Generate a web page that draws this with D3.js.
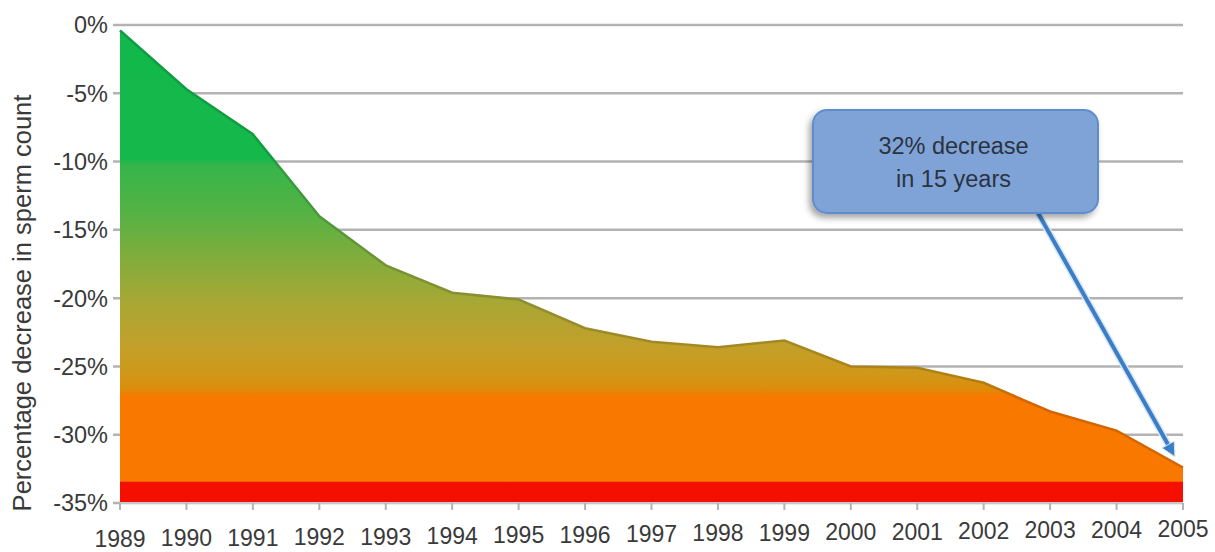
<!DOCTYPE html>
<html>
<head>
<meta charset="utf-8">
<script src="https://cdn.jsdelivr.net/npm/d3@7"></script>
<style>
  html, body { margin: 0; padding: 0; background: #ffffff; }
  svg { display: block; font-family: "Liberation Sans", Arial, sans-serif; }
</style>
</head>
<body>
<svg id="chart" width="1215" height="552"></svg>
<script>
const years = [1989,1990,1991,1992,1993,1994,1995,1996,1997,1998,1999,2000,2001,2002,2003,2004,2005];
const decrease = [-0.4,-4.7,-8.0,-14.0,-17.6,-19.6,-20.1,-22.2,-23.2,-23.6,-23.1,-25.0,-25.1,-26.2,-28.3,-29.7,-32.4];
const yTicks = [0,-5,-10,-15,-20,-25,-30,-35];
const yTickLabels = ["0%","-5%","-10%","-15%","-20%","-25%","-30%","-35%"];
const yAxisTitle = "Percentage decrease in sperm count";
const calloutLines = ["32% decrease","in 15 years"];
const calloutTarget = {year: 2005, value: -31.8};

const svg = d3.select("#chart");
const x = d3.scaleLinear().domain([1989, 2005]).range([120, 1183]);
const y = d3.scaleLinear().domain([-35, 0]).range([503, 25]);
// slight tilt of the year-label baseline, as in the scanned original
const labelBase = d3.scaleLinear().domain([1989, 2005]).range([547, 537]);

const defs = svg.append("defs");
const grad = defs.append("linearGradient")
  .attr("id", "fillGrad").attr("gradientUnits", "userSpaceOnUse")
  .attr("x1", 0).attr("x2", 0).attr("y1", y(0)).attr("y2", y(-35));
const stops = [
  [0, "#12b84b"], [-9.8, "#15b84b"], [-10.3, "#36b54a"], [-13.8, "#55b244"],
  [-17, "#80ad3c"], [-20.5, "#aaa734"], [-23.5, "#c2a02a"], [-25.5, "#cf981a"],
  [-26.6, "#dc8d0c"], [-27.2, "#f87800"], [-33.4, "#f87800"], [-33.5, "#f50f00"], [-35, "#f50f00"]
];
stops.forEach(([v, c]) => grad.append("stop").attr("offset", (y(v) - y(0)) / (y(-35) - y(0))).attr("stop-color", c));

const shadow = defs.append("filter").attr("id", "shadow").attr("x", "-20%").attr("y", "-20%").attr("width", "140%").attr("height", "150%");
shadow.append("feDropShadow").attr("dx", -3).attr("dy", 4).attr("stdDeviation", 3).attr("flood-color", "#000").attr("flood-opacity", 0.35);

// gridlines
svg.append("g").selectAll("line").data(yTicks).join("line")
  .attr("x1", 113).attr("x2", x(2005))
  .attr("y1", d => y(d)).attr("y2", d => y(d))
  .attr("stroke", "#b3b3b3").attr("stroke-width", 2.5);

// y tick labels
svg.append("g").selectAll("text").data(yTicks).join("text")
  .attr("x", 108).attr("y", d => y(d)).attr("dy", "0.36em")
  .attr("text-anchor", "end").attr("font-size", 23.5).attr("fill", "#3a3a3a")
  .text((d, i) => yTickLabels[i]);

// area
const data = years.map((yr, i) => ({yr, v: decrease[i]}));
const area = d3.area().x(d => x(d.yr)).y0(y(-35)).y1(d => y(d.v));
svg.append("path").datum(data).attr("d", area).attr("fill", "url(#fillGrad)");
const line = d3.line().x(d => x(d.yr)).y(d => y(d.v));
svg.append("path").datum(data).attr("d", line).attr("fill", "none")
  .attr("stroke", "url(#fillGrad)").attr("stroke-width", 2.5).attr("filter", "brightness(0.85)");

// x axis line + ticks
svg.append("line").attr("x1", x(1989)).attr("x2", x(2005)).attr("y1", y(-35)).attr("y2", y(-35))
  .attr("stroke", "#c8c8c8").attr("stroke-width", 2);
svg.append("g").selectAll("line").data(years).join("line")
  .attr("x1", d => x(d)).attr("x2", d => x(d)).attr("y1", y(-35)).attr("y2", y(-35) + 7)
  .attr("stroke", "#b3b3b3").attr("stroke-width", 2);
svg.append("g").selectAll("text").data(years).join("text")
  .attr("x", d => x(d)).attr("y", d => labelBase(d)).attr("text-anchor", "middle")
  .attr("font-size", 23).attr("fill", "#3a3a3a").text(d => d);

// y axis title
svg.append("text").attr("transform", `translate(31,303) rotate(-90)`)
  .attr("text-anchor", "middle").attr("font-size", 25.5).attr("fill", "#3a3a3a").text(yAxisTitle);

// callout
const box = {x: 813, y: 110, w: 285, h: 103};
const tx = x(calloutTarget.year) - 10, ty = y(calloutTarget.value) - 6;
const sx = 1038, sy = box.y + box.h;
svg.append("line").attr("x1", sx).attr("y1", sy).attr("x2", tx).attr("y2", ty)
  .attr("stroke", "#d6e6f7").attr("stroke-width", 7);
svg.append("line").attr("x1", sx).attr("y1", sy).attr("x2", tx).attr("y2", ty)
  .attr("stroke", "#3c7ec6").attr("stroke-width", 4);
const ang = Math.atan2(ty - sy, tx - sx);
const hl = 14, hw = 7;
const hx = tx + Math.cos(ang) * 4, hy = ty + Math.sin(ang) * 4;
const bx = hx - Math.cos(ang) * hl, by = hy - Math.sin(ang) * hl;
svg.append("path")
  .attr("d", `M${hx},${hy}L${bx - Math.sin(ang) * hw},${by + Math.cos(ang) * hw}L${bx + Math.sin(ang) * hw},${by - Math.cos(ang) * hw}Z`)
  .attr("fill", "#3c7ec6").attr("stroke", "#d6e6f7").attr("stroke-width", 1);

svg.append("rect").attr("x", box.x).attr("y", box.y).attr("width", box.w).attr("height", box.h)
  .attr("rx", 14).attr("fill", "#7fa3d7").attr("stroke", "#5f8dcc").attr("stroke-width", 2)
  .attr("filter", "url(#shadow)");
svg.append("g").selectAll("text").data(calloutLines).join("text")
  .attr("x", box.x + box.w / 2 - 2).attr("y", (d, i) => 154 + i * 33)
  .attr("text-anchor", "middle").attr("font-size", 23.5).attr("fill", "#2b3340").text(d => d);
</script>
</body>
</html>
